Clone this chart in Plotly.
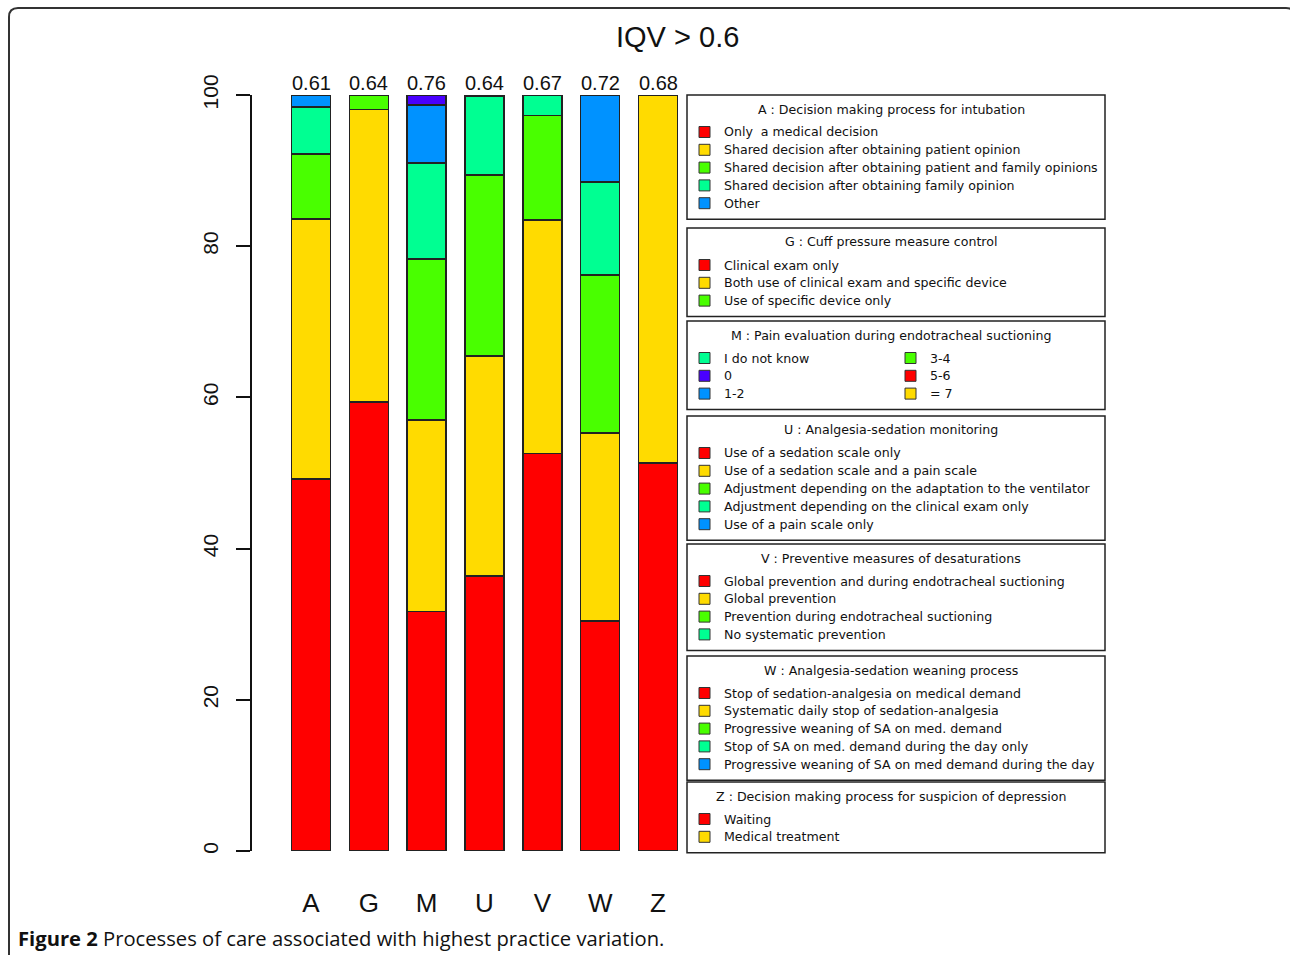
import plotly.graph_objects as go

# ---------------- data ----------------
categories = ["A", "G", "M", "U", "V", "W", "Z"]
iqv_labels = ["0.61", "0.64", "0.76", "0.64", "0.67", "0.72", "0.68"]

red_pct = [49.2, 59.4, 31.7, 36.4, 52.6, 30.4, 51.3]
yellow_pct = [34.4, 38.7, 25.3, 29.1, 30.9, 24.9, 48.7]
green_pct = [8.6, 1.9, 21.3, 23.9, 13.8, 20.9, None]
teal_pct = [6.2, None, 12.7, 10.4, 2.7, 12.3, None]
blue_pct = [1.6, None, 7.7, 0.2, None, 11.5, None]
purple_pct = [None, None, 1.3, None, None, None, None]

y_ticks = [0, 20, 40, 60, 80, 100]

title_text = "IQV > 0.6"
caption_bold = "Figure 2"
caption_rest = " Processes of care associated with highest practice variation."

legend_titles = [
    "A : Decision making process for intubation",
    "G : Cuff pressure measure control",
    "M : Pain evaluation during endotracheal suctioning",
    "U : Analgesia-sedation monitoring",
    "V : Preventive measures of desaturations",
    "W : Analgesia-sedation weaning process",
    "Z : Decision making process for suspicion of depression",
]
legend_A = ["Only  a medical decision",
            "Shared decision after obtaining patient opinion",
            "Shared decision after obtaining patient and family opinions",
            "Shared decision after obtaining family opinion",
            "Other"]
legend_G = ["Clinical exam only",
            "Both use of clinical exam and specific device",
            "Use of specific device only"]
legend_M_col1 = ["I do not know", "0", "1-2"]
legend_M_col2 = ["3-4", "5-6", "= 7"]
legend_U = ["Use of a sedation scale only",
            "Use of a sedation scale and a pain scale",
            "Adjustment depending on the adaptation to the ventilator",
            "Adjustment depending on the clinical exam only",
            "Use of a pain scale only"]
legend_V = ["Global prevention and during endotracheal suctioning",
            "Global prevention",
            "Prevention during endotracheal suctioning",
            "No systematic prevention"]
legend_W = ["Stop of sedation-analgesia on medical demand",
            "Systematic daily stop of sedation-analgesia",
            "Progressive weaning of SA on med. demand",
            "Stop of SA on med. demand during the day only",
            "Progressive weaning of SA on med demand during the day"]
legend_Z = ["Waiting", "Medical treatment"]

# ---------------- styles ----------------
RED, YEL, GRN, TEA, BLU, PUR = "#FF0000", "#FFDB00", "#49FF00", "#00FF92", "#0092FF", "#4900FF"
W, H = 1290, 955


def px(x):
    return x / W


def py(y):
    return 1 - y / H


fig = go.Figure()
series = [(red_pct, RED), (yellow_pct, YEL), (green_pct, GRN),
          (teal_pct, TEA), (blue_pct, BLU), (purple_pct, PUR)]
for vals, col in series:
    fig.add_trace(go.Bar(
        x=categories, y=vals, width=0.675,
        marker=dict(color=col, line=dict(color="#222222", width=1.6)),
        showlegend=False, hoverinfo="x+y"))

annotations = []
for c, t in zip(categories, iqv_labels):
    annotations.append(dict(x=c, y=100, xref="x", yref="y", text=t, showarrow=False,
                            yanchor="bottom", yshift=-1,
                            font=dict(family="Liberation Sans, Arial", size=20, color="#111111")))

annotations.append(dict(x=px(677), y=py(37), xref="paper", yref="paper", text=title_text,
                        showarrow=False, xanchor="center", yanchor="middle",
                        font=dict(family="Liberation Sans, Arial", size=29, color="#111111")))
annotations.append(dict(x=px(16), y=py(938), xref="paper", yref="paper",
                        text="<b>" + caption_bold + "</b>" + caption_rest,
                        showarrow=False, xanchor="left", yanchor="middle",
                        font=dict(family="Open Sans, Lato", size=20.2, color="#111111")))

shapes = []
# outer rounded frame
r = 9
x0, y0, x1, y1 = 9, 8, 1295, 1010
path = (f"M {px(x0)},{py(y1)} L {px(x0)},{py(y0 + r)} Q {px(x0)},{py(y0)} {px(x0 + r)},{py(y0)} "
        f"L {px(x1 - r)},{py(y0)} Q {px(x1)},{py(y0)} {px(x1)},{py(y0 + r)} L {px(x1)},{py(y1)}")
shapes.append(dict(type="path", path=path, xref="paper", yref="paper",
                   line=dict(color="#333333", width=2)))

# legend boxes
groups = [
    (95, [legend_A], [[RED, YEL, GRN, TEA, BLU]]),
    (228, [legend_G], [[RED, YEL, GRN]]),
    (321, [legend_M_col1, legend_M_col2], [[TEA, PUR, BLU], [GRN, RED, YEL]]),
    (416, [legend_U], [[RED, YEL, GRN, TEA, BLU]]),
    (544, [legend_V], [[RED, YEL, GRN, TEA]]),
    (656, [legend_W], [[RED, YEL, GRN, TEA, BLU]]),
    (782, [legend_Z], [[RED, YEL]]),
]
bx0, bx1 = 687, 1105
step = 17.8
lfont = dict(family="DejaVu Sans", size=12.6, color="#111111")
col_x = [705, 911]
for (top, cols, colors), ttl in zip(groups, legend_titles):
    n = max(len(c) for c in cols)
    bottom = top + 37 + (n - 1) * step + 16
    shapes.append(dict(type="rect", xref="paper", yref="paper",
                       x0=px(bx0), x1=px(bx1), y0=py(top), y1=py(bottom),
                       line=dict(color="#222222", width=1.5), fillcolor="rgba(0,0,0,0)"))
    annotations.append(dict(x=px(891), y=py(top + 14), xref="paper", yref="paper", text=ttl,
                            showarrow=False, xanchor="center", yanchor="middle", font=lfont))
    for ci, (labels, cl) in enumerate(zip(cols, colors)):
        sx = col_x[ci]
        for i, (lab, c) in enumerate(zip(labels, cl)):
            yy = top + 37 + i * step
            shapes.append(dict(type="rect", xref="paper", yref="paper",
                               x0=px(sx - 6), x1=px(sx + 5), y0=py(yy - 5.5), y1=py(yy + 5.5),
                               line=dict(color="#333333", width=1), fillcolor=c))
            annotations.append(dict(x=px(sx + 17), y=py(yy), xref="paper", yref="paper", text=lab,
                                    showarrow=False, xanchor="left", yanchor="middle", font=lfont))

s = (658 - 311) / 6.0
fig.update_layout(
    width=W, height=H,
    margin=dict(l=0, r=0, t=0, b=0, pad=0),
    paper_bgcolor="white", plot_bgcolor="white",
    barmode="stack",
    showlegend=False,
    annotations=annotations,
    shapes=shapes,
    xaxis=dict(domain=[px(252), px(687)], range=[-(311 - 252) / s, 6 + (687 - 658) / s],
               automargin=False,
               showline=False, showgrid=False, zeroline=False, ticks="",
               ticklabelstandoff=34,
               tickfont=dict(family="Liberation Sans, Arial", size=26, color="#111111")),
    yaxis=dict(domain=[py(851), py(95)], range=[0, 100],
               automargin=False,
               tickvals=y_ticks, ticktext=[str(v) for v in y_ticks],
               showline=True, linecolor="#111111", linewidth=1.5,
               ticks="outside", ticklen=14, tickwidth=1.5, tickcolor="#111111",
               tickangle=-90, ticklabelstandoff=10,
               showgrid=False, zeroline=False,
               tickfont=dict(family="Liberation Sans, Arial", size=21, color="#111111")),
)

page_fix = ("document.body.style.margin='0';document.body.style.overflow='hidden';"
            "var d=document.getElementById('{plot_id}');"
            "d.style.position='absolute';d.style.left='0px';d.style.top='0px';")
fig.write_html("out.html", post_script=page_fix, config={"displayModeBar": False})
